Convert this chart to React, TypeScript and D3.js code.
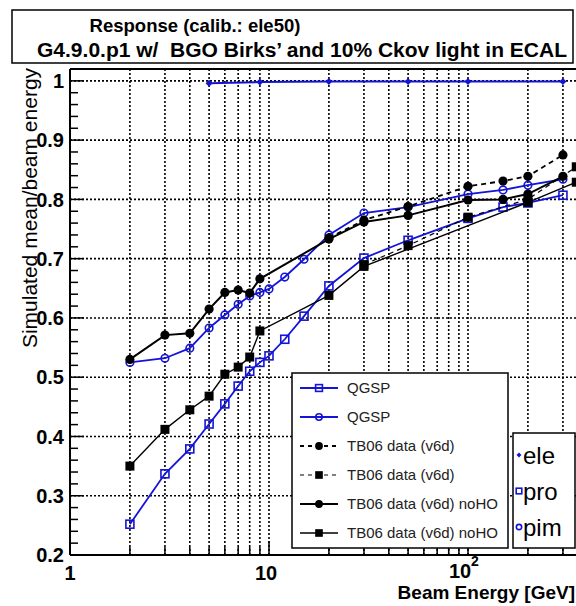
import React from "react";
import * as d3 from "d3";

// beam energies (GeV) used by the simulation
const simEnergies = [2, 3, 4, 5, 6, 7, 8, 9, 10, 12, 15, 20, 30, 50, 100, 150, 200, 300];
const qgspPro = [0.252, 0.337, 0.379, 0.421, 0.455, 0.485, 0.51, 0.525, 0.536, 0.564, 0.603, 0.654, 0.701, 0.731, 0.768, 0.787, 0.794, 0.807];
const qgspPim = [0.525, 0.532, 0.549, 0.583, 0.605, 0.623, 0.637, 0.643, 0.649, 0.669, 0.699, 0.74, 0.777, 0.787, 0.809, 0.816, 0.824, 0.834];

// test beam data
const pimNoHOEnergies = [2, 3, 4, 5, 6, 7, 8, 9, 20, 30, 50, 100, 150, 200, 300];
const pimNoHO = [0.53, 0.571, 0.574, 0.615, 0.643, 0.647, 0.642, 0.666, 0.733, 0.762, 0.773, 0.799, 0.8, 0.809, 0.839];
const pimHOEnergies = [20, 30, 50, 100, 150, 200, 300];
const pimHO = [0.735, 0.765, 0.788, 0.822, 0.831, 0.839, 0.875];
const proNoHOEnergies = [2, 3, 4, 5, 6, 7, 8, 9, 20, 30, 200, 350];
const proNoHO = [0.35, 0.412, 0.445, 0.468, 0.505, 0.517, 0.534, 0.578, 0.638, 0.687, 0.795, 0.829];
const proHOEnergies = [30, 50, 100, 200, 350];
const proHO = [0.69, 0.722, 0.77, 0.8, 0.855];

const eleEnergies = [5, 9, 20, 50, 100, 300];
const eleResp = [0.996, 0.998, 0.999, 0.999, 0.999, 0.999];

const legendLabels = ["QGSP", "QGSP", "TB06 data (v6d)", "TB06 data (v6d)", "TB06 data (v6d) noHO", "TB06 data (v6d) noHO"];
const particleLabels = ["ele", "pro", "pim"];
const yTickValues = [0.2, 0.3, 0.4, 0.5, 0.6, 0.7, 0.8, 0.9, 1];

const W = 576;
const H = 606;
const BLUE = "#1414d8";
const FONT = "'Liberation Sans', Arial, sans-serif";

const left = 70;
const top = 69;
const bottom = 555;

const x = d3.scaleLog().domain([1, 400]).range([left, left + 199 * Math.log10(400)]);
const y = d3.scaleLinear().domain([0.2, 1.02]).range([bottom, top]);

type Marker = "sqOpen" | "circOpen" | "circFill" | "sqFill" | "diamond";

function drawMarker(kind: Marker, cx: number, cy: number, key: string | number, color: string, s = 1) {
  if (kind === "sqOpen")
    return <rect key={key} x={cx - 4 * s} y={cy - 4 * s} width={8 * s} height={8 * s} fill="none" stroke={color} strokeWidth={1.6} />;
  if (kind === "circOpen")
    return <circle key={key} cx={cx} cy={cy} r={3.8 * s} fill="none" stroke={color} strokeWidth={1.6} />;
  if (kind === "circFill")
    return <circle key={key} cx={cx} cy={cy} r={4.6 * s} fill={color} />;
  if (kind === "sqFill")
    return <rect key={key} x={cx - 4.5 * s} y={cy - 4.5 * s} width={9 * s} height={9 * s} fill={color} />;
  const r = 3.5 * s;
  return <path key={key} d={`M${cx},${cy - r}L${cx + r},${cy}L${cx},${cy + r}L${cx - r},${cy}Z`} fill={color} />;
}

const series = [
  { e: simEnergies, v: qgspPro, color: BLUE, width: 1.8, dash: "", marker: "sqOpen" as Marker },
  { e: simEnergies, v: qgspPim, color: BLUE, width: 1.8, dash: "", marker: "circOpen" as Marker },
  { e: pimHOEnergies, v: pimHO, color: "black", width: 1.8, dash: "5 4", marker: "circFill" as Marker },
  { e: proHOEnergies, v: proHO, color: "black", width: 1.2, dash: "5 4", marker: "sqFill" as Marker },
  { e: pimNoHOEnergies, v: pimNoHO, color: "black", width: 2, dash: "", marker: "circFill" as Marker },
  { e: proNoHOEnergies, v: proNoHO, color: "black", width: 1.4, dash: "", marker: "sqFill" as Marker },
];

export default function App() {
  const line = d3
    .line<[number, number]>()
    .x((d) => x(d[0]))
    .y((d) => y(d[1]));

  const gridX = x.ticks().filter((t) => t > 1);
  const minorY = d3.range(0.2, 1.021, 0.02);

  return (
    <svg width={W} height={H} style={{ position: "absolute", left: 0, top: 0, background: "white" }} fontFamily={FONT}>
      <defs>
        <clipPath id="plot">
          <rect x={left} y={top - 6} width={W - left} height={bottom - top + 12} />
        </clipPath>
      </defs>

      {/* grid */}
      {gridX.map((t) => (
        <line key={"gx" + t} x1={x(t)} x2={x(t)} y1={top} y2={bottom} stroke="black" strokeWidth={1.6} strokeDasharray="2 2" />
      ))}
      {yTickValues.filter((t) => t > 0.2).map((t) => (
        <line key={"gy" + t} x1={left} x2={W} y1={y(t)} y2={y(t)} stroke="black" strokeWidth={1.6} strokeDasharray="2 2" />
      ))}

      {/* axis frame */}
      <line x1={left} x2={W} y1={top} y2={top} stroke="black" strokeWidth={2} />
      <line x1={left} x2={W} y1={bottom} y2={bottom} stroke="black" strokeWidth={2} />
      <line x1={left} x2={left} y1={top} y2={bottom} stroke="black" strokeWidth={2} />

      {/* y ticks */}
      {minorY.map((t, i) => (
        <line key={"ty" + i} x1={left} x2={left + (i % 5 === 0 ? 14 : 8)} y1={y(t)} y2={y(t)} stroke="black" strokeWidth={1.5} />
      ))}
      {/* x ticks */}
      {x.ticks().map((t) => {
        const major = [1, 10, 100].includes(t);
        return <line key={"tx" + t} x1={x(t)} x2={x(t)} y1={bottom} y2={bottom - (major ? 14 : 8)} stroke="black" strokeWidth={1.5} />;
      })}

      {/* data */}
      <g clipPath="url(#plot)">
        {series.map((s, i) => (
          <g key={"s" + i}>
            <path
              d={line(s.e.map((e, j) => [e, s.v[j]] as [number, number])) || ""}
              fill="none"
              stroke={s.color}
              strokeWidth={s.width}
              strokeDasharray={s.dash}
            />
            {s.e.map((e, j) => drawMarker(s.marker, x(e), y(s.v[j]), j, s.color))}
          </g>
        ))}
        <path d={line(eleEnergies.map((e, j) => [e, eleResp[j]] as [number, number])) || ""} fill="none" stroke={BLUE} strokeWidth={2} />
        {eleEnergies.map((e, j) => drawMarker("diamond", x(e), y(eleResp[j]), "el" + j, BLUE))}
      </g>

      {/* y tick labels */}
      {yTickValues.map((t) => (
        <text key={"ly" + t} x={64} y={y(t)} dy="0.36em" textAnchor="end" fontSize={20} fontWeight="bold">
          {t === 1 ? "1" : d3.format(".1f")(t)}
        </text>
      ))}
      {/* x tick labels */}
      <text x={x(1)} y={580} textAnchor="middle" fontSize={20} fontWeight="bold">1</text>
      <text x={x(10) - 3} y={580} textAnchor="middle" fontSize={20} fontWeight="bold">10</text>
      <text x={x(100) - 8} y={578} textAnchor="middle" fontSize={20} fontWeight="bold">10</text>
      <text x={x(100) + 3} y={566} fontSize={14} fontWeight="bold">2</text>

      {/* axis titles */}
      <text x={575} y={599} textAnchor="end" fontSize={19} fontWeight="bold">Beam Energy [GeV]</text>
      <text transform="translate(37,208) rotate(-90)" textAnchor="middle" fontSize={21}>Simulated mean/beam energy</text>

      {/* title box */}
      <rect x={12} y={10} width={561} height={53} fill="white" stroke="black" strokeWidth={1.5} />
      <text x={195} y={32} textAnchor="middle" fontSize={18.5} fontWeight="bold">Response (calib.: ele50)</text>
      <text x={37} y={57} fontSize={19.5} fontWeight="bold" textLength={530} lengthAdjust="spacingAndGlyphs" style={{ whiteSpace: "pre" }}>
        {"G4.9.0.p1 w/  BGO Birks\u2019 and 10% Ckov light in ECAL"}
      </text>

      {/* main legend */}
      <rect x={292} y={373} width={216} height={175} fill="white" stroke="black" strokeWidth={1.5} />
      {series.map((s, i) => {
        const ly = 388 + i * 29;
        return (
          <g key={"lg" + i}>
            <line x1={300} x2={338} y1={ly} y2={ly} stroke={s.color} strokeWidth={s.width} strokeDasharray={s.dash ? "4 4" : ""} />
            {drawMarker(s.marker, 319, ly, "m", s.color, 0.85)}
            <text x={347} y={ly} dy="0.36em" fontSize={15} fill="#222">{legendLabels[i]}</text>
          </g>
        );
      })}

      {/* particle legend */}
      <rect x={513} y={433} width={62} height={115} fill="white" stroke="black" strokeWidth={1.5} />
      {particleLabels.map((p, i) => {
        const ly = 455 + i * 36;
        const m: Marker = i === 0 ? "diamond" : i === 1 ? "sqOpen" : "circOpen";
        return (
          <g key={"pl" + p}>
            {drawMarker(m, 519, ly, "m", BLUE, 0.7)}
            <text x={523} y={ly} dy="0.36em" fontSize={24}>{p}</text>
          </g>
        );
      })}
    </svg>
  );
}
